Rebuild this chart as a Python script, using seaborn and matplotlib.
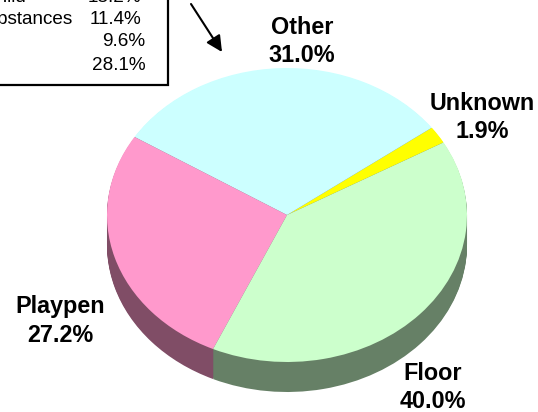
import matplotlib
matplotlib.use("Agg")
import matplotlib.pyplot as plt
import seaborn as sns
from matplotlib.patches import Rectangle, FancyArrowPatch

# slices, counter-clockwise from the small yellow one
categories = ["Unknown", "Other", "Playpen", "Floor"]
values = [1.9, 31.0, 27.2, 40.0]

legend_names = ["Child", "Substances", "", ""]
legend_values = ["13.2%", "11.4%", "9.6%", "28.1%"]

W, H = 538, 412
DEPTH = 30
START = 29.6

sns.set_theme(style="white")
plt.rcParams["font.family"] = ["Liberation Sans", "DejaVu Sans"]

top_colors = sns.color_palette(["#FFFF00", "#CCFFFF", "#FF99CC", "#CCFFCC"])
side_colors = sns.color_palette(["#808000", "#668080", "#804D66", "#668066"])

fig = plt.figure(figsize=(W / 100, H / 100), dpi=100, facecolor="white")

# ellipse of the top face, in pixels
cx, cy, rx, ry = 287, 215, 180, 147
ax = fig.add_axes([(cx - rx) / W, 1 - (cy + ry) / H, 2 * rx / W, 2 * ry / H])

# stacked copies make the side of the disc
for d in range(DEPTH, 0, -1):
    ax.pie(values, colors=side_colors, startangle=START, radius=1,
           center=(0, -d / ry), wedgeprops={"linewidth": 0})
ax.pie(values, colors=top_colors, startangle=START, radius=1,
       center=(0, 0), wedgeprops={"linewidth": 0})

ax.set_aspect("auto")
ax.set_xlim(-1, 1)
ax.set_ylim(-1, 1)
ax.axis("off")
for p in ax.patches:
    p.set_clip_on(False)


def px(x, y):
    return x / W, 1 - y / H


label_pos = {"Other": (302, 27), "Unknown": (482, 103), "Playpen": (60, 307), "Floor": (433, 373)}
for name, val in zip(categories, values):
    x, y = label_pos[name]
    fig.text(*px(x, y), name, ha="center", va="center", fontsize=16.8, fontweight="bold", color="black")
    fig.text(*px(x, y + 28), f"{val:.1f}%", ha="center", va="center", fontsize=16.8, fontweight="bold", color="black")

# legend box runs off the top left of the picture
x0, y0 = px(-20, -20)
x1, y1 = px(168, 85)
fig.add_artist(Rectangle((x0, y1), x1 - x0, y0 - y1, transform=fig.transFigure,
                         facecolor="white", edgecolor="black", linewidth=1.6))

row_y = [-2, 20, 42, 65]
name_left = [-17, -26, 0, 0]
value_right = [141, 141, 145, 146]
for name, val, y, l, r in zip(legend_names, legend_values, row_y, name_left, value_right):
    fig.text(*px(l, y), name, ha="left", va="center", fontsize=13.6, color="black")
    fig.text(*px(r, y), val, ha="right", va="center", fontsize=13.6, color="black")

# arrow pointing at the Other slice
fig.add_artist(FancyArrowPatch(
    px(191, 4), px(222, 52), transform=fig.transFigure, arrowstyle="-|>",
    mutation_scale=24, color="black", linewidth=1.5, shrinkA=0, shrinkB=0))

fig.savefig("out.png", dpi=100)
plt.close(fig)
